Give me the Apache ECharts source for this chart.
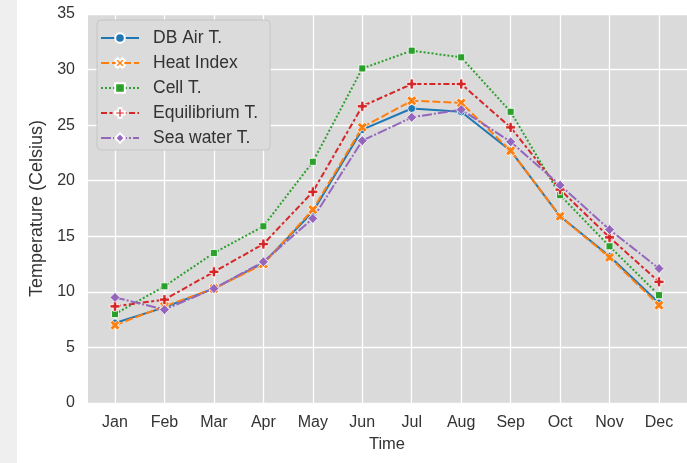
<!DOCTYPE html>
<html>
<head>
<meta charset="utf-8">
<script src="https://cdn.jsdelivr.net/npm/echarts@6/dist/echarts.min.js"></script>
<style>
html,body{margin:0;padding:0;background:#ffffff;}
#chart{width:687px;height:463px;}
</style>
</head>
<body>
<div id="chart"></div>
<script>
var months = ['Jan','Feb','Mar','Apr','May','Jun','Jul','Aug','Sep','Oct','Nov','Dec'];
var yTicks = [0, 5, 10, 15, 20, 25, 30, 35];
var dbAir     = [7.2, 8.6, 10.3, 12.6, 17.2, 24.6, 26.5, 26.2, 22.7, 16.8, 13.2, 9.0];
var heatIndex = [7.0, 8.7, 10.3, 12.5, 17.4, 24.8, 27.2, 27.0, 22.7, 16.8, 13.1, 8.8];
var cellT     = [8.0, 10.5, 13.5, 15.9, 21.7, 30.1, 31.7, 31.1, 26.2, 18.7, 14.1, 9.7];
var equilT    = [8.7, 9.3, 11.8, 14.3, 19.0, 26.7, 28.7, 28.7, 24.8, 19.2, 14.9, 10.9];
var seaT      = [9.5, 8.4, 10.3, 12.7, 16.6, 23.6, 25.7, 26.4, 23.5, 19.6, 15.6, 12.1];

var FONT = "'Liberation Sans', Arial, sans-serif";
var TXT = '#333333';
var X_PATH = 'path://M2,-4 L4,-2 L2,0 L4,2 L2,4 L0,2 L-2,4 L-4,2 L-2,0 L-4,-2 L-2,-4 L0,-2 Z';
var P_PATH = 'path://M-1,-3 L1,-3 L1,-1 L3,-1 L3,1 L1,1 L1,3 L-1,3 L-1,1 L-3,1 L-3,-1 L-1,-1 Z';

function mkSeries(name, data, color, dash, symbol, size) {
  return {
    name: name, type: 'line', data: data,
    xAxisIndex: 0, yAxisIndex: 0,
    symbol: symbol, symbolSize: size, showSymbol: true,
    lineStyle: {color: color, width: 2, type: dash},
    itemStyle: {color: color, borderColor: '#ffffff', borderWidth: 0.8},
    emphasis: {disabled: true}
  };
}

var chart = echarts.init(document.getElementById('chart'), null, {renderer: 'canvas'});
chart.setOption({
  animation: false,
  backgroundColor: '#ffffff',
  textStyle: {fontFamily: FONT},
  graphic: [
    {type: 'rect', z: -1, shape: {x: 0, y: 0, width: 17, height: 463}, style: {fill: '#efefef'}},
    {type: 'rect', z: -1, shape: {x: 88, y: 14, width: 599, height: 389}, style: {fill: '#dadada'}}
  ],
  grid: [
    {left: 115, right: 28, top: 14, bottom: 60},
    {left: 88, right: 0, top: 14, bottom: 60}
  ],
  legend: {
    orient: 'vertical', left: 97, top: 20,
    padding: [9, 12, 3, 3],
    itemWidth: 38, itemHeight: 12, itemGap: 7,
    backgroundColor: '#dbdbdb', borderColor: '#c6c6c6', borderWidth: 1, borderRadius: 4,
    textStyle: {fontFamily: FONT, fontSize: 17.5, color: TXT, padding: [0, 0, 0, 9]},
    data: ['DB Air T.', 'Heat Index', 'Cell T.', 'Equilibrium T.', 'Sea water T.']
  },
  xAxis: [
    {
      type: 'category', gridIndex: 0, data: months, boundaryGap: false,
      axisLine: {show: false}, axisTick: {show: false},
      axisLabel: {fontFamily: FONT, fontSize: 16, color: TXT, margin: 12},
      splitLine: {show: true, lineStyle: {color: '#ffffff', width: 1.3}},
      name: 'Time', nameLocation: 'middle', nameGap: 33,
      nameTextStyle: {fontFamily: FONT, fontSize: 16.5, color: TXT}
    },
    {type: 'value', gridIndex: 1, min: 0, max: 1, show: false}
  ],
  yAxis: [
    {type: 'value', gridIndex: 0, min: 0, max: 35, interval: 5, show: false},
    {
      type: 'value', gridIndex: 1, min: 0, max: 35, interval: 5,
      axisLine: {show: false}, axisTick: {show: false},
      axisLabel: {fontFamily: FONT, fontSize: 16, color: TXT, margin: 13,
        formatter: function (v) { return yTicks.indexOf(v) >= 0 ? String(v) : ''; }},
      splitLine: {show: true, lineStyle: {color: '#ffffff', width: 1.3}},
      name: 'Temperature (Celsius)', nameLocation: 'middle', nameGap: 42,
      nameTextStyle: {fontFamily: FONT, fontSize: 18, color: TXT}
    }
  ],
  series: [
    mkSeries('DB Air T.', dbAir, '#1f77b4', 'solid', 'circle', 8),
    mkSeries('Heat Index', heatIndex, '#ff7f0e', [8, 3], X_PATH, 10),
    mkSeries('Cell T.', cellT, '#2ca02c', [2, 2], 'rect', 7),
    mkSeries('Equilibrium T.', equilT, '#d62728', [6, 2.5, 3, 2.5], P_PATH, 10),
    mkSeries('Sea water T.', seaT, '#9467bd', [10, 2, 2, 2], 'diamond', 10)
  ]
});
</script>
</body>
</html>
